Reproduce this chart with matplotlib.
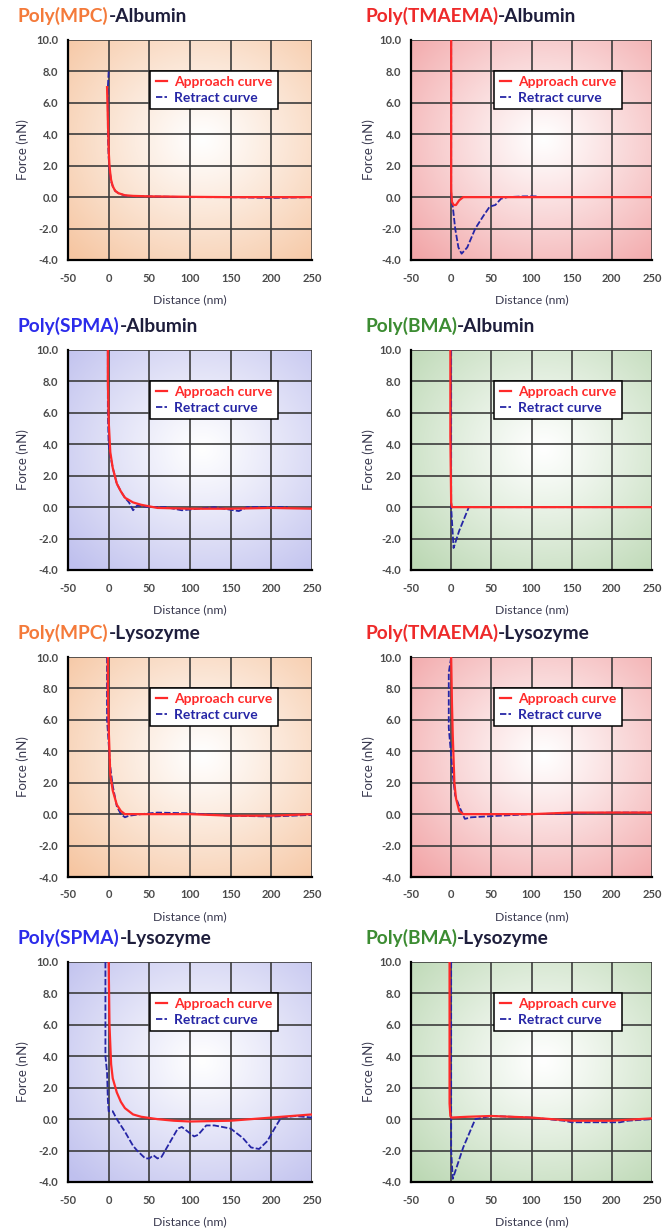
#!/usr/bin/env python3

import matplotlib.pyplot as plt
import numpy as np
from matplotlib.ticker import FormatStrFormatter, MultipleLocator

plt.rcParams['font.family'] = ['Lato', 'DejaVu Sans']
plt.rcParams['font.weight'] = 'bold'
plt.rcParams['axes.unicode_minus'] = False

# polymer name, protein, title colour, background edge colour
panels = [
    ('Poly(MPC)', '-Albumin', '#f47a3a', '#f6c6a2'),
    ('Poly(TMAEMA)', '-Albumin', '#ee2a2a', '#f2a6a8'),
    ('Poly(SPMA)', '-Albumin', '#2b2bea', '#bfc0ee'),
    ('Poly(BMA)', '-Albumin', '#3c8c32', '#bcd8b4'),
    ('Poly(MPC)', '-Lysozyme', '#f47a3a', '#f6c6a2'),
    ('Poly(TMAEMA)', '-Lysozyme', '#ee2a2a', '#f2a6a8'),
    ('Poly(SPMA)', '-Lysozyme', '#2b2bea', '#bfc0ee'),
    ('Poly(BMA)', '-Lysozyme', '#3c8c32', '#bcd8b4'),
]

# approach curves (distance nm, force nN)
approach_x = [
    [-2, -1, 0, 1, 2, 3, 5, 8, 12, 20, 30, 50, 100, 150, 200, 250],
    [0, 0, 1, 3, 6, 10, 15, 50, 100, 150, 200, 250],
    [-1, -1, 0, 2, 5, 10, 15, 20, 30, 40, 50, 60, 100, 150, 200, 250],
    [-1, -1, 0, 1, 50, 100, 150, 200, 250],
    [-1, -1, 0, 2, 5, 10, 15, 20, 30, 50, 100, 150, 200, 250],
    [0, 1, 2, 4, 6, 10, 15, 50, 100, 150, 200, 250],
    [0, 1, 3, 5, 10, 15, 20, 30, 40, 60, 80, 100, 150, 200, 250],
    [-2, -2, -1, 0, 20, 50, 100, 150, 200, 250],
]
approach_y = [
    [7.0, 5.0, 3.0, 2.0, 1.5, 1.1, 0.7, 0.4, 0.25, 0.12, 0.08, 0.05, 0.02, 0.0, 0.0, 0.0],
    [10.0, 0.5, -0.3, -0.5, -0.5, -0.2, 0.0, 0.0, 0.0, 0.0, 0.0, 0.0],
    [10.0, 8.0, 5.5, 3.5, 2.5, 1.5, 1.0, 0.6, 0.3, 0.15, 0.05, -0.05, -0.1, -0.1, -0.05, -0.1],
    [10.0, 4.5, 0.3, 0.0, 0.0, 0.0, 0.0, 0.0, 0.0],
    [10.0, 8.0, 5.5, 2.5, 1.5, 0.6, 0.2, 0.0, 0.0, 0.0, 0.0, -0.1, -0.1, 0.0],
    [10.0, 7.0, 5.0, 2.0, 1.0, 0.2, 0.0, 0.0, 0.0, 0.1, 0.1, 0.1],
    [10.0, 6.0, 3.5, 2.6, 1.7, 1.1, 0.7, 0.3, 0.15, 0.0, -0.1, -0.15, -0.1, 0.1, 0.3],
    [10.0, 1.0, 0.2, 0.1, 0.15, 0.2, 0.1, -0.1, -0.1, 0.05],
]

# retract curves (distance nm, force nN)
retract_x = [
    [0, -1, -1, 0, 1, 3, 5, 8, 12, 20, 30, 50, 100, 150, 200, 250],
    [0, 0, 2, 5, 9, 13, 20, 30, 40, 48, 55, 62, 70, 90, 108],
    [-1, -1, 0, 2, 5, 10, 15, 20, 25, 30, 35, 50, 70, 90, 100, 130, 160, 170, 220],
    [0, 0, 3, 10, 22, 50, 100, 150, 200, 220],
    [-2, -2, 0, 2, 5, 10, 15, 20, 25, 40, 60, 100, 150, 200, 250],
    [0, -3, -3, 2, 5, 10, 17, 25, 60, 100, 150, 200, 255],
    [-4, -4, -2, -1, 0, 5, 10, 20, 30, 35, 45, 50, 55, 60, 65, 75, 85, 90, 100, 105, 110,
     120, 130, 150, 165, 175, 185, 195, 205, 212, 230, 250],
    [0, 0, 2, 15, 30, 50, 100, 140, 150, 210, 220, 250],
]
retract_y = [
    [8.0, 7.0, 4.0, 2.5, 1.8, 1.0, 0.7, 0.4, 0.25, 0.1, 0.06, 0.05, 0.0, 0.0, -0.05, 0.0],
    [10.0, 0.0, -0.6, -2.0, -3.2, -3.6, -3.2, -2.0, -1.2, -0.6, -0.5, -0.1, 0.0, 0.05, 0.05],
    [10.0, 6.0, 4.0, 3.3, 2.5, 1.5, 1.0, 0.6, 0.3, -0.2, 0.1, 0.0, 0.0, -0.2, -0.15, 0.0, -0.25, 0.0, 0.0],
    [10.0, 0.0, -2.6, -1.5, 0.0, 0.0, 0.0, 0.0, 0.0, 0.0],
    [10.0, 6.0, 4.5, 3.0, 1.8, 0.5, 0.0, -0.2, -0.1, 0.0, 0.1, 0.05, -0.1, -0.15, -0.05],
    [10.0, 9.0, 5.5, 2.5, 1.2, 0.5, -0.3, -0.2, -0.1, 0.0, 0.05, 0.1, 0.1],
    [10.0, 4.0, 3.0, 1.2, 0.5, 0.5, 0.0, -0.8, -1.7, -2.0, -2.5, -2.5, -2.3, -2.5, -2.4, -1.5,
     -0.6, -0.5, -0.9, -1.1, -1.0, -0.4, -0.4, -0.6, -1.2, -1.8, -1.9, -1.4, -0.5, 0.1, 0.2, 0.1],
    [10.0, -2.0, -3.8, -1.8, 0.0, 0.2, 0.1, -0.1, -0.2, -0.2, -0.1, 0.0],
]

x_ticks = [-50, 0, 50, 100, 150, 200, 250]

W, H = 664, 1231
col_left = [68, 411]
col_width = [244, 241]
row_top = [40, 350, 657, 962]
ax_height = 220


def gradient_image(edge_hex):
    edge = np.array([int(edge_hex[i:i + 2], 16) / 255 for i in (1, 3, 5)])
    yy, xx = np.mgrid[0:1:200j, 0:1:200j]
    r = np.sqrt(((xx - 0.55) / 0.75) ** 2 + ((yy - 0.55) / 0.75) ** 2)
    t = np.clip(r, 0, 1)[..., None] ** 1.1
    return (1 - t) * np.ones(3) + t * edge


fig = plt.figure(figsize=(W / 100, H / 100), dpi=100)

for i, (poly, protein, tcolor, bg) in enumerate(panels):
    row, col = divmod(i, 2)
    left = col_left[col] / W
    bottom = 1 - (row_top[row] + ax_height) / H
    ax = fig.add_axes([left, bottom, col_width[col] / W, ax_height / H])

    ax.imshow(gradient_image(bg), extent=(-50, 250, -4, 10), aspect='auto',
              origin='lower', zorder=0)
    ax.plot(retract_x[i], retract_y[i], color='#2626a6', lw=1.3,
            ls=(0, (3.5, 1.2)), label='Retract curve', zorder=3)
    ax.plot(approach_x[i], approach_y[i], color='#ff2a2a', lw=1.6,
            label='Approach curve', zorder=4)

    ax.set_xlim(-50, 250)
    ax.set_ylim(-4, 10)
    ax.xaxis.set_major_locator(MultipleLocator(50))
    ax.yaxis.set_major_locator(MultipleLocator(2))
    ax.yaxis.set_major_formatter(FormatStrFormatter('%.1f'))
    ax.set_xticks(x_ticks)
    ax.grid(True, color='#3c3c3c', lw=1.2, zorder=1)
    ax.set_axisbelow(False)
    for s in ['top', 'right']:
        ax.spines[s].set_visible(False)
    for s in ['left', 'bottom']:
        ax.spines[s].set_linewidth(1.6)
        ax.spines[s].set_zorder(5)
    ax.tick_params(length=0, labelsize=8, labelcolor='#4a4a4a')
    ax.tick_params(axis='y', pad=7)
    ax.tick_params(axis='x', pad=9)

    ax.set_xlabel('Distance (nm)', fontsize=8.8, color='#3a3a50')
    ax.set_ylabel('Force (nN)', fontsize=9.5, color='#3a3a50')
    ax.xaxis.set_label_coords(0.5, -0.155)
    ax.yaxis.set_label_coords(-0.16 if col == 0 else -0.149, 0.5)

    handles, labels = ax.get_legend_handles_labels()
    leg = ax.legend(handles[::-1], labels[::-1], loc='upper right',
                    bbox_to_anchor=(0.86 if col == 0 else 0.875, 0.86),
                    fontsize=10, handlelength=0.8,
                    handletextpad=0.5, borderpad=0.4, labelspacing=0.25,
                    borderaxespad=0, fancybox=False, framealpha=1,
                    edgecolor='black', labelcolor=['#ff2a2a', '#2626a6'])
    leg.get_frame().set_linewidth(1.1)
    leg.set_zorder(6)

    tx = -0.205 if col == 0 else -0.19
    t1 = ax.text(tx, 1.11, poly, transform=ax.transAxes, fontsize=13.8,
                 color=tcolor, va='center', ha='left')
    ax.annotate(protein, xy=(1, 0), xycoords=t1, va='bottom', ha='left',
                fontsize=13.8, color='#1e1e3c')

fig.savefig('out.png', dpi=100)
